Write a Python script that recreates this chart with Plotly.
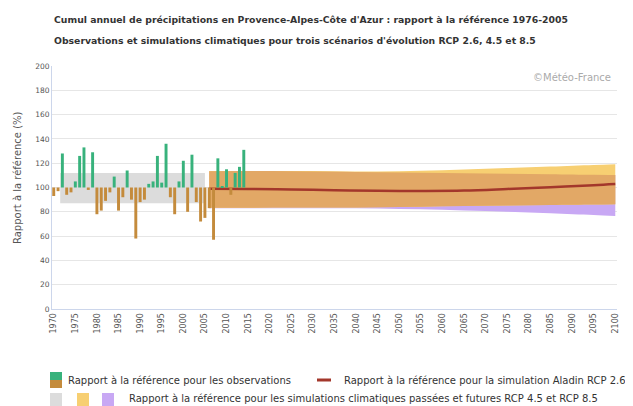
import numpy as np
import plotly.graph_objects as go

# ---------------- data ----------------
obs_years = list(range(1970, 2015))
obs_values = [93, 97, 128, 94, 96, 105, 126, 133, 98, 129,
              78, 81, 89, 96, 109, 81, 92, 114, 90, 58,
              88, 90, 103, 105, 126, 104, 136, 92, 78, 105,
              122, 80, 127, 88, 72, 75, 83, 57, 124, 101,
              115, 94, 112, 117, 131]

hist_years = [1971.5, 2005]
hist_low = [87, 87]
hist_high = [112, 112]

fut_years = [2006, 2015, 2025, 2035, 2045, 2055, 2065, 2075, 2085, 2095, 2100]
rcp45_low = [83.3, 83.4, 83.5, 83.6, 83.8, 84.2, 84.7, 85.2, 85.6, 86.0, 86.2]
rcp45_high = [113.5, 113.6, 113.5, 113.3, 113.1, 113.8, 114.8, 116.0, 117.3, 118.6, 119.2]
rcp85_low = [83.0, 83.0, 83.0, 83.0, 82.8, 82.0, 81.0, 80.0, 78.8, 77.3, 76.5]
rcp85_high = [113.4, 113.5, 113.3, 113.0, 112.6, 112.2, 111.8, 111.3, 110.9, 110.4, 110.2]
aladin_rcp26 = [99.0, 98.8, 98.3, 97.8, 97.3, 97.2, 97.5, 98.8, 100.3, 101.8, 102.8]

tick_years = list(range(1970, 2101, 5))
y_ticks = list(range(0, 201, 20))

title_1 = "Cumul annuel de précipitations en Provence-Alpes-Côte d'Azur : rapport à la référence 1976-2005"
title_2 = "Observations et simulations climatiques pour trois scénarios d'évolution RCP 2.6, 4.5 et 8.5"

# ---------------- styles ----------------
GREEN = "#38b27c"
BROWN = "#c48b3c"
GREY = "#dcdcdc"
YELLOW = "#f7cf72"
PURPLE = "#c8a8f4"
OVERLAP = "#e2a866"
RED = "#a3372b"
FONT = "DejaVu Sans, Verdana, sans-serif"

# page has an 8px body margin: figure is sized to fit the 633x406 window
W, H = 625, 398
# plot area in window pixels
SL, SR, ST, SB = 52, 617, 66, 309
OFF = 8
L, T = SL - OFF, ST - OFF
R = W - (SR - OFF)
B = H - (SB - OFF)


def px_x(x):
    return (x - SL) / (SR - SL)


def px_y(y):
    return (SB - y) / (SB - ST)


fig = go.Figure()


def band(x, lo, hi, color, shape="spline"):
    fig.add_trace(go.Scatter(x=x, y=lo, mode="lines", line=dict(width=0, shape=shape),
                             hoverinfo="skip", showlegend=False))
    fig.add_trace(go.Scatter(x=x, y=hi, mode="lines", line=dict(width=0, shape=shape),
                             fill="tonexty", fillcolor=color, hoverinfo="skip", showlegend=False))


band(hist_years, hist_low, hist_high, GREY, shape="linear")
band(fut_years, rcp85_low, rcp85_high, PURPLE)
band(fut_years, rcp45_low, rcp45_high, YELLOW)
ov_low = np.maximum(rcp45_low, rcp85_low)
ov_high = np.minimum(rcp45_high, rcp85_high)
band(fut_years, ov_low, ov_high, OVERLAP)

fig.add_trace(go.Scatter(x=fut_years, y=aladin_rcp26, mode="lines",
                         line=dict(color=RED, width=2.5, shape="spline"),
                         showlegend=False))

vals = np.array(obs_values, dtype=float)
yrs = np.array(obs_years)
up = vals >= 100
fig.add_trace(go.Bar(x=yrs[up], y=vals[up] - 100, base=100, marker_color=GREEN,
                     marker_line_width=0, width=0.68, xaxis="x2", yaxis="y2", showlegend=False))
fig.add_trace(go.Bar(x=yrs[~up], y=vals[~up] - 100, base=100, marker_color=BROWN,
                     marker_line_width=0, width=0.68, xaxis="x2", yaxis="y2", showlegend=False))

x_range = [1969.6, 2100.4]
fig.update_layout(
    width=W, height=H,
    margin=dict(l=L, r=R, t=T, b=B),
    paper_bgcolor="white", plot_bgcolor="white",
    font=dict(family=FONT, color="#333333"),
    barmode="overlay",
    showlegend=False,
    xaxis=dict(range=x_range, tickmode="array", tickvals=tick_years,
               ticktext=[str(t) for t in tick_years], tickangle=-90,
               tickfont=dict(size=8, color="#555555"), showgrid=False,
               showline=True, linecolor="#ccd6eb", linewidth=1, ticks="", zeroline=False,
               automargin=False),
    yaxis=dict(range=[0, 200], tickmode="array", tickvals=y_ticks,
               tickfont=dict(size=7.5, color="#555555"), gridcolor="#e6e6e6",
               showline=True, linecolor="#ccd6eb", zeroline=False, ticks="",
               automargin=False),
    xaxis2=dict(overlaying="x", matches="x", visible=False),
    yaxis2=dict(overlaying="y", matches="y", visible=False),
)

ann = []


def text(t, x, y, size, color="#333333", anchor="left", angle=0):
    ann.append(dict(text=t, x=px_x(x), y=px_y(y), xref="paper", yref="paper",
                    xanchor=anchor, yanchor="middle", showarrow=False, textangle=angle,
                    font=dict(size=size, color=color)))


text("<b>" + title_1 + "</b>", 52, 20, 9.3)
text("<b>" + title_2 + "</b>", 52, 40, 9.3)
text("©Météo-France", 613, 77, 10, color="#aaaaaa", anchor="right")
text("Rapport à la référence (%)", 17, 178, 10, color="#555555", anchor="center", angle=-90)
# legend texts
text("Rapport à la référence pour les observations", 66, 380, 10)
text("Rapport à la référence pour la simulation Aladin RCP 2.6", 342, 380, 10)
text("Rapport à la référence pour les simulations climatiques passées et futures RCP 4.5 et RCP 8.5",
     127, 398, 10)

shapes = []


def rect(x0, y0, x1, y1, color):
    shapes.append(dict(type="rect", xref="paper", yref="paper", x0=px_x(x0), x1=px_x(x1),
                       y0=px_y(y1), y1=px_y(y0), fillcolor=color, line=dict(width=0)))


rect(50, 372, 62, 380, GREEN)
rect(50, 380, 62, 388, BROWN)
shapes.append(dict(type="line", xref="paper", yref="paper", x0=px_x(317), x1=px_x(331),
                   y0=px_y(380), y1=px_y(380), line=dict(color=RED, width=3)))
rect(50, 393, 62, 406, GREY)
rect(77, 393, 89, 406, YELLOW)
rect(102, 393, 114, 406, PURPLE)

fig.update_layout(annotations=ann, shapes=shapes)
fig.write_html("out.html")
